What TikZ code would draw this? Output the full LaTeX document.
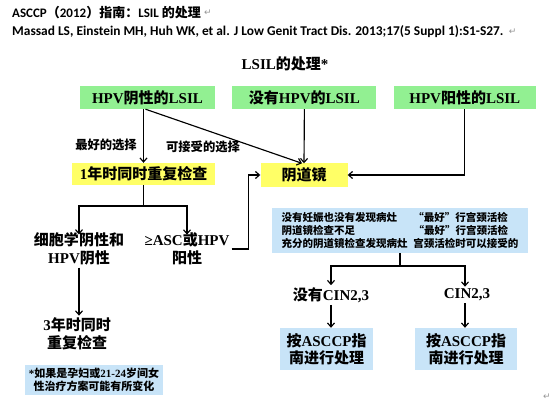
\documentclass[tikz,border=0pt]{standalone}
\usepackage{fontspec}
\setmainfont{Liberation Serif}
\newfontfamily\cjk{Noto Sans CJK SC}
\newfontfamily\hdrfont{Carlito}
\newfontfamily\symfont{DejaVu Sans}
\definecolor{lsilgreen}{RGB}{146, 240, 146}
\definecolor{chkyellow}{RGB}{255, 255, 102}
\definecolor{noteblue}{RGB}{200, 228, 248}
\definecolor{markgray}{RGB}{150, 150, 150}
\usetikzlibrary{arrows.meta, positioning, calc}
\newcommand{\zh}[1]{{\cjk #1}}
\tikzset{
	greenbox/.style={rectangle, fill=lsilgreen, minimum height=23pt, inner sep=2pt, font=\fontsize{15}{17}\selectfont\bfseries},
	yellowbox/.style={rectangle, fill=chkyellow, minimum height=22pt, inner sep=2pt, font=\fontsize{15}{17}\selectfont\bfseries},
	bluebox/.style={rectangle, fill=noteblue, minimum height=42pt, inner sep=2pt, align=center, font=\fontsize{15}{17}\selectfont\bfseries},
	plain/.style={inner sep=2pt, align=center, font=\fontsize{15}{18}\selectfont\bfseries},
	choice/.style={inner sep=1pt, font=\fontsize{12.3}{14}\selectfont\bfseries},
	retmark/.style={inner sep=0pt, text=markgray, font=\symfont\fontsize{9}{9}\selectfont},
	line/.style={line width=1.15pt, draw=black},
	arrow/.style={-{Straight Barb[length=4pt, width=7pt]}, line width=1.15pt, draw=black},
}
\begin{document}
\begin{tikzpicture}[x=1pt, y=-1pt, node distance=17pt]
	\useasboundingbox[fill=white] (0,0) rectangle (557,409);
	% header lines
	\node[anchor=west, inner sep=0pt, font=\hdrfont\bfseries\fontsize{13}{15}\selectfont] (head) at (12,13) {ASCCP\zh{（}2012\zh{）指南：}LSIL \zh{的处理}};
	\node[retmark, right=3pt of head] (ret1) {↵};
	\node[anchor=west, inner sep=0pt, font=\hdrfont\bfseries\fontsize{13.4}{15}\selectfont] (cite) at (12,32) {Massad LS, Einstein MH, Huh WK, et al. J Low Genit Tract Dis. 2013;17(5 Suppl 1):S1-S27.};
	\node[retmark, right=5pt of cite] (ret2) {↵};
	\node[retmark] (ret3) at (547,397) {↵};
	% title
	\node[plain] (title) at (285,64) {LSIL\zh{的处理}*};
	% top row
	\node[greenbox, minimum width=135pt] (neg) at (147.5,97.5) {HPV\zh{阴性的}LSIL};
	\node[greenbox, minimum width=144pt, right=of neg] (none) {\zh{没有}HPV\zh{的}LSIL};
	\node[greenbox, minimum width=142pt, right=of none] (pos) {HPV\zh{阳性的}LSIL};
	% second row
	\node[yellowbox, minimum width=143pt] (yr1) at (143.5,174) {1\zh{年时同时重复检查}};
	\node[yellowbox, minimum width=87pt, minimum height=23pt] (colpo) at (304,175) {\zh{阴道镜}};
	\node[choice] (best) at (106,145) {\zh{最好的选择}};
	\node[choice] (okay) at (203,147) {\zh{可接受的选择}};
	% left branch
	\node[plain] (cytneg) at (79,249) {\zh{细胞学阴性和}\\HPV\zh{阴性}};
	\node[plain] (ascpos) at (187,249) {≥ASC\zh{或}HPV\\\zh{阳性}};
	\node[plain] (yr3) at (77,334) {3\zh{年时同时}\\\zh{重复检查}};
	\node[rectangle, fill=noteblue, minimum width=138pt, minimum height=30pt, inner sep=2pt, align=center, font=\fontsize{11}{13}\selectfont\bfseries] (note) at (94,380) {*\zh{如果是孕妇或}21-24\zh{岁间女}\\\zh{性治疗方案可能有所变化}};
	% right branch
	\node[rectangle, fill=noteblue, minimum width=256pt, minimum height=45pt, inner sep=4pt, align=left, font=\cjk\bfseries\fontsize{10.5}{13}\selectfont] (info) at (400,230.5) {%
		\makebox[132pt][l]{没有妊娠也没有发现病灶}“最好”行宫颈活检\\
		\makebox[132pt][l]{阴道镜检查不足}“最好”行宫颈活检\\
		\makebox[132pt][l]{充分的阴道镜检查发现病灶}宫颈活检时可以接受的};
	\node[plain] (nocin) at (331,295) {\zh{没有}CIN2,3};
	\node[plain] (cin) at (467,295) {CIN2,3};
	\node[bluebox, minimum width=93pt] (treat1) at (326.5,349) {\zh{按}ASCCP\zh{指}\\\zh{南进行处理}};
	\node[bluebox, minimum width=102pt] (treat2) at (466,349) {\zh{按}ASCCP\zh{指}\\\zh{南进行处理}};
	% connectors
	\coordinate (splitA) at (143.5,206);
	\coordinate (splitB) at (400,266);
	\draw[arrow] (yr1.north |- neg.south) -- (yr1.north);
	\draw[arrow] ([xshift=2pt]yr1.north |- neg.south) -- ([xshift=-2pt]colpo.north);
	\draw[arrow] (none.south) -- (colpo.north);
	\draw[arrow] (pos.south) -- (pos.south |- colpo.east) -- (colpo.east);
	\draw[line] (yr1.south) -- (splitA);
	\draw[arrow] (splitA) -| ([yshift=-4pt]cytneg.north);
	\draw[arrow] (splitA) -| ([yshift=-4pt]ascpos.north);
	\draw[arrow] (ascpos.east) -| ([xshift=-12pt]colpo.west) -- (colpo.west);
	\draw[arrow] (cytneg.south) -- (yr3.north -| cytneg.south);
	\draw[line] (info.south) -- (splitB);
	\draw[arrow] (splitB) -| (nocin.north);
	\draw[arrow] (splitB) -| ([xshift=-2pt]cin.north);
	\draw[arrow] (nocin.south) -- (nocin.south |- treat1.north);
	\draw[arrow] ([xshift=-2pt]cin.south) -- ([xshift=-2pt]cin.south |- treat2.north);
\end{tikzpicture}
\end{document}
